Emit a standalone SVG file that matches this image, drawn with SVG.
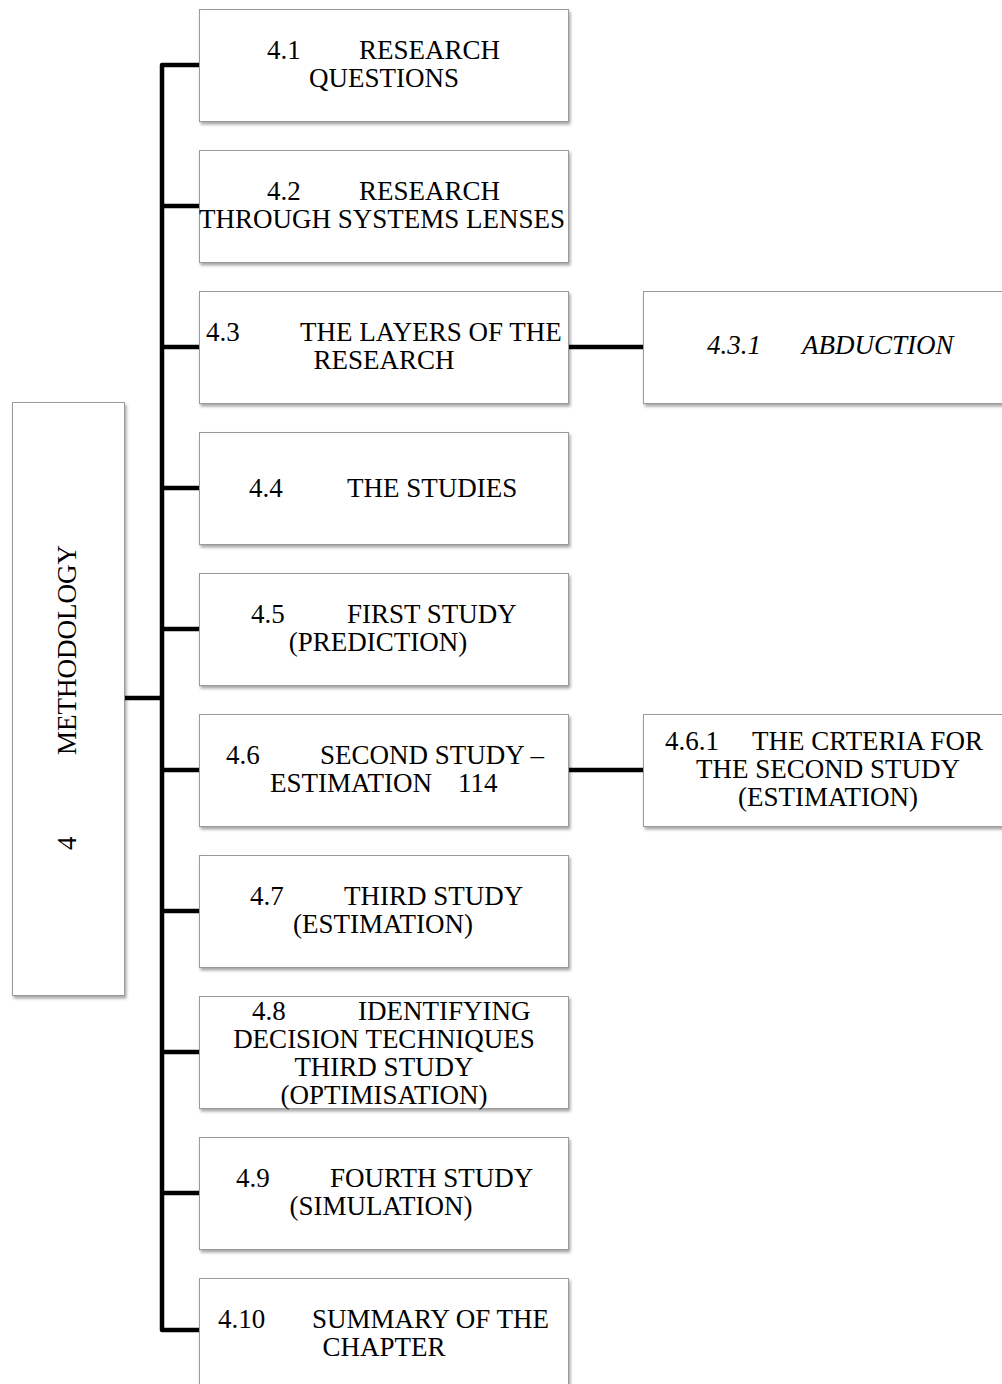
<svg xmlns="http://www.w3.org/2000/svg" width="1002" height="1384" viewBox="0 0 1002 1384">
  <defs>
    <filter id="shadow" x="-10%" y="-10%" width="130%" height="140%">
      <feDropShadow dx="1.5" dy="2.5" stdDeviation="1.8" flood-color="#000" flood-opacity="0.35"/>
    </filter>
  </defs>
  <style>
    .box { fill: #ffffff; stroke: #9a9a9a; stroke-width: 1; filter: url(#shadow); }
    .wire { fill: none; stroke: #000; stroke-width: 4.5; stroke-linejoin: round; stroke-linecap: butt; }
    .lbl { font-family: "Liberation Serif", "DejaVu Serif", serif; font-size: 27px; fill: #000; }
    .mid { text-anchor: middle; }
    .it { font-style: italic; }
  </style>
  <rect width="1002" height="1384" fill="#ffffff"/>

  <!-- connectors: trunk with one branch per section box -->
  <g id="connectors">
    <path class="wire" d="M199,65 H162 V1330 H199"/>
    <path class="wire" d="M162,206 H199 M162,347 H199 M162,488 H199 M162,629 H199 M162,770 H199 M162,911 H199 M162,1052 H199 M162,1193 H199"/>
    <path class="wire" d="M125,698 H162"/>
    <path class="wire" d="M569,347 H643"/>
    <path class="wire" d="M569,770 H643"/>
  </g>

  <!-- chapter root -->
  <g id="n4">
    <rect class="box" x="12.5" y="402.5" width="112" height="593"/>
    <text class="lbl" transform="translate(76,850) rotate(-90)"><tspan x="0">4</tspan><tspan x="95">METHODOLOGY</tspan></text>
  </g>

  <g id="n4-1">
    <rect class="box" x="199.5" y="9.5" width="369" height="112"/>
    <text class="lbl" x="267" y="59">4.1</text><text class="lbl" x="359" y="59">RESEARCH</text>
    <text class="lbl mid" x="384" y="87">QUESTIONS</text>
  </g>

  <g id="n4-2">
    <rect class="box" x="199.5" y="150.5" width="369" height="112"/>
    <text class="lbl" x="267" y="200">4.2</text><text class="lbl" x="359" y="200">RESEARCH</text>
    <text class="lbl mid" x="382" y="228">THROUGH SYSTEMS LENSES</text>
  </g>

  <g id="n4-3">
    <rect class="box" x="199.5" y="291.5" width="369" height="112"/>
    <text class="lbl" x="206" y="341">4.3</text><text class="lbl" x="300" y="341">THE LAYERS OF THE</text>
    <text class="lbl mid" x="384" y="369">RESEARCH</text>
  </g>

  <g id="n4-4">
    <rect class="box" x="199.5" y="432.5" width="369" height="112"/>
    <text class="lbl" x="249" y="497">4.4</text><text class="lbl" x="347" y="497">THE STUDIES</text>
  </g>

  <g id="n4-5">
    <rect class="box" x="199.5" y="573.5" width="369" height="112"/>
    <text class="lbl" x="251" y="623">4.5</text><text class="lbl" x="347" y="623">FIRST STUDY</text>
    <text class="lbl mid" x="378" y="651">(PREDICTION)</text>
  </g>

  <g id="n4-6">
    <rect class="box" x="199.5" y="714.5" width="369" height="112"/>
    <text class="lbl" x="226" y="764">4.6</text><text class="lbl" x="320" y="764">SECOND STUDY –</text>
    <text class="lbl" x="270" y="792">ESTIMATION</text><text class="lbl" x="458" y="792">114</text>
  </g>

  <g id="n4-7">
    <rect class="box" x="199.5" y="855.5" width="369" height="112"/>
    <text class="lbl" x="250" y="905">4.7</text><text class="lbl" x="344" y="905">THIRD STUDY</text>
    <text class="lbl mid" x="383" y="933">(ESTIMATION)</text>
  </g>

  <g id="n4-8">
    <rect class="box" x="199.5" y="996.5" width="369" height="112"/>
    <text class="lbl" x="252" y="1020">4.8</text><text class="lbl" x="358" y="1020">IDENTIFYING</text>
    <text class="lbl mid" x="384" y="1048">DECISION TECHNIQUES</text>
    <text class="lbl mid" x="384" y="1076">THIRD STUDY</text>
    <text class="lbl mid" x="384" y="1104">(OPTIMISATION)</text>
  </g>

  <g id="n4-9">
    <rect class="box" x="199.5" y="1137.5" width="369" height="112"/>
    <text class="lbl" x="236" y="1187">4.9</text><text class="lbl" x="330" y="1187">FOURTH STUDY</text>
    <text class="lbl mid" x="381" y="1215">(SIMULATION)</text>
  </g>

  <g id="n4-10">
    <rect class="box" x="199.5" y="1278.5" width="369" height="112"/>
    <text class="lbl" x="218" y="1328">4.10</text><text class="lbl" x="312" y="1328">SUMMARY OF THE</text>
    <text class="lbl mid" x="384" y="1356">CHAPTER</text>
  </g>

  <g id="n4-3-1">
    <rect class="box" x="643.5" y="291.5" width="369" height="112"/>
    <text class="lbl it" x="707" y="354">4.3.1</text><text class="lbl it" x="802" y="354">ABDUCTION</text>
  </g>

  <g id="n4-6-1">
    <rect class="box" x="643.5" y="714.5" width="369" height="112"/>
    <text class="lbl" x="665" y="750">4.6.1</text><text class="lbl" x="752" y="750">THE CRTERIA FOR</text>
    <text class="lbl mid" x="828" y="778">THE SECOND STUDY</text>
    <text class="lbl mid" x="828" y="806">(ESTIMATION)</text>
  </g>
</svg>
